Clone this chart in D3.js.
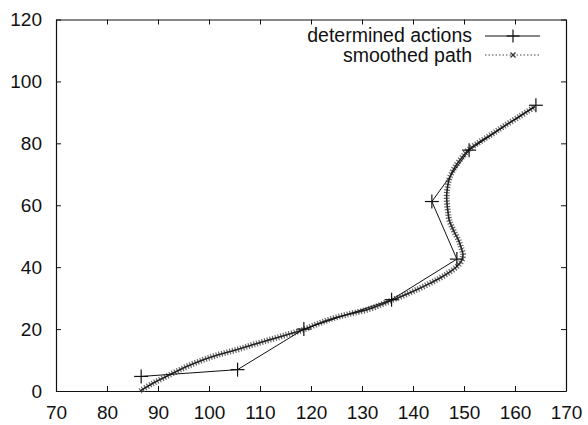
<!DOCTYPE html>
<html>
<head>
<meta charset="utf-8">
<title>determined actions / smoothed path</title>
<style>
  body { margin: 0; background: #fff; }
  text { font-family: "Liberation Sans", Arial, Helvetica, sans-serif; }
</style>
</head>
<body>
<script src="https://d3js.org/d3.v7.min.js"></script>
<script>
// values
var xTicks = [70, 80, 90, 100, 110, 120, 130, 140, 150, 160, 170];
var yTicks = [0, 20, 40, 60, 80, 100, 120];

// determined actions (crosses joined by a solid line)
var actionsX = [86.7, 105.6, 118.6, 135.8, 148.6, 143.7, 151.0, 164.1];
var actionsY = [4.7, 6.9, 20.0, 29.5, 42.6, 61.2, 77.8, 92.3];

// smoothed path
var smoothX = [86.5, 89, 92.4, 95.5, 98.9, 102, 105.4, 108.7, 112, 115.3, 118.5,
  121.5, 124.4, 127.6, 130.9, 133.6, 136.1, 138.5, 140.7, 143.1, 145.3, 147.1,
  148.6, 149.5, 149.8, 149.4, 148.9, 148.2, 147.6, 147.1, 146.9, 146.7, 146.6,
  146.7, 146.9, 147.3, 147.9, 148.5, 149.2, 150, 150.8, 153.1, 155.7, 157.7,
  160.8, 163.9];
var smoothY = [0, 2.5, 5.3, 7.8, 10.1, 11.8, 13.3, 15, 16.6, 18.2, 19.8,
  21.8, 23.5, 24.9, 26.2, 27.8, 29.5, 31.1, 32.7, 34.6, 36.5, 38.3,
  40.2, 42, 44, 46.5, 48.8, 51, 53.1, 55.2, 57.4, 60, 62.8,
  65, 67.1, 69.3, 71.4, 73, 74.6, 76.2, 77.8, 80.5, 83.2, 85.4,
  88.6, 91.8];

var seriesNames = ["determined actions", "smoothed path"];

var W = 588, H = 425;
var margin = {top: 19.5, right: 22, bottom: 34, left: 56};
var width = W - margin.left - margin.right,
    height = H - margin.top - margin.bottom;

var svg = d3.select("body").append("svg")
    .attr("width", W).attr("height", H);
var g = svg.append("g")
    .attr("transform", "translate(" + margin.left + "," + margin.top + ")");

var x = d3.scaleLinear().domain([70, 170]).range([0, width]);
var y = d3.scaleLinear().domain([0, 120]).range([height, 0]);

// axes, ticks pointing inward on all four sides
function styleAxis(sel) {
  sel.select(".domain").attr("stroke", "#111").attr("stroke-width", 1.2);
  sel.selectAll(".tick line").attr("stroke", "#111");
  sel.selectAll(".tick text").attr("fill", "#111")
     .style("font-size", "19px")
     .style("font-family", "'Liberation Sans', Arial, sans-serif");
}

g.append("g")
  .attr("transform", "translate(0," + height + ")")
  .call(d3.axisBottom(x).tickValues(xTicks).tickSize(-5).tickSizeOuter(0).tickPadding(15))
  .call(styleAxis);
g.append("g")
  .call(d3.axisTop(x).tickValues(xTicks).tickSize(-5).tickSizeOuter(0).tickFormat(""))
  .call(styleAxis);
g.append("g")
  .call(d3.axisLeft(y).tickValues(yTicks).tickSize(-5).tickSizeOuter(0).tickPadding(14))
  .call(styleAxis);
g.append("g")
  .attr("transform", "translate(" + width + ",0)")
  .call(d3.axisRight(y).tickValues(yTicks).tickSize(-5).tickSizeOuter(0).tickFormat(""))
  .call(styleAxis);

// smoothed path: dense x-marks look, made from a wide dashed stroke + thin core
var smooth = smoothX.map(function(d, i) { return [d, smoothY[i]]; });
var smoothLine = d3.line()
    .x(function(d) { return x(d[0]); })
    .y(function(d) { return y(d[1]); })
    .curve(d3.curveCatmullRom);

g.append("path").datum(smooth)
  .attr("d", smoothLine)
  .attr("fill", "none")
  .attr("stroke", "#666")
  .attr("stroke-width", 6)
  .attr("stroke-dasharray", "1.2,1.6");
g.append("path").datum(smooth)
  .attr("d", smoothLine)
  .attr("fill", "none")
  .attr("stroke", "#222")
  .attr("stroke-width", 1.6);

// determined actions
var actions = actionsX.map(function(d, i) { return [d, actionsY[i]]; });
g.append("path").datum(actions)
  .attr("d", d3.line().x(function(d) { return x(d[0]); }).y(function(d) { return y(d[1]); }))
  .attr("fill", "none")
  .attr("stroke", "#111")
  .attr("stroke-width", 1);

function plus(sel, s) {
  sel.append("line").attr("x1", -s).attr("x2", s).attr("y1", 0).attr("y2", 0);
  sel.append("line").attr("x1", 0).attr("x2", 0).attr("y1", -s).attr("y2", s);
}
g.selectAll(".act").data(actions).enter().append("g")
  .attr("class", "act")
  .attr("transform", function(d) { return "translate(" + x(d[0]) + "," + y(d[1]) + ")"; })
  .attr("stroke", "#111").attr("stroke-width", 1.2)
  .each(function() { plus(d3.select(this), 7); });

// legend (top right, inside the frame)
var lg = svg.append("g");
var legX0 = 485, legX1 = 540, textRight = 472;
lg.append("text").attr("x", textRight).attr("y", 42).attr("text-anchor", "end")
  .style("font-size", "19.5px").attr("fill", "#111").text(seriesNames[0]);
lg.append("line").attr("x1", legX0).attr("x2", legX1).attr("y1", 36).attr("y2", 36)
  .attr("stroke", "#111").attr("stroke-width", 1);
lg.append("g").attr("transform", "translate(513,36)")
  .attr("stroke", "#111").attr("stroke-width", 1.2)
  .each(function() { plus(d3.select(this), 6.5); });

lg.append("text").attr("x", textRight).attr("y", 62).attr("text-anchor", "end")
  .style("font-size", "19.5px").attr("fill", "#111").text(seriesNames[1]);
lg.append("line").attr("x1", legX0).attr("x2", legX1).attr("y1", 55).attr("y2", 55)
  .attr("stroke", "#444").attr("stroke-width", 1).attr("stroke-dasharray", "1.5,2");
lg.append("g").attr("transform", "translate(513,55)")
  .attr("stroke", "#333").attr("stroke-width", 1.2)
  .call(function(s) {
    s.append("line").attr("x1", -2.5).attr("y1", -2.5).attr("x2", 2.5).attr("y2", 2.5);
    s.append("line").attr("x1", -2.5).attr("y1", 2.5).attr("x2", 2.5).attr("y2", -2.5);
  });
</script>
</body>
</html>
